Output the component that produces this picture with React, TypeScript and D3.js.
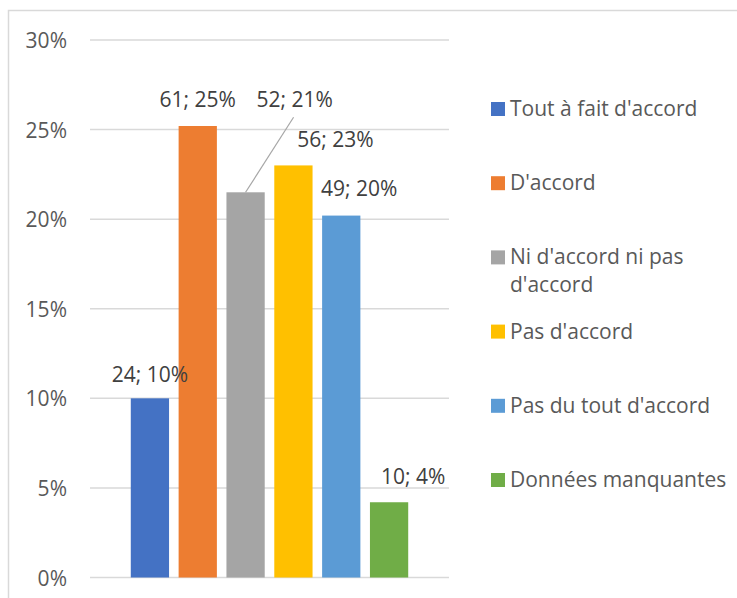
import React from "react";
import * as d3 from "d3";

const seriesNames = [
  "Tout à fait d'accord",
  "D'accord",
  "Ni d'accord ni pas d'accord",
  "Pas d'accord",
  "Pas du tout d'accord",
  "Données manquantes",
];
const counts = [24, 61, 52, 56, 49, 10];
const percents = [10.0, 25.2, 21.5, 23.0, 20.2, 4.2];
const percentLabels = ["10%", "25%", "21%", "23%", "20%", "4%"];
const colors = ["#4472C4", "#ED7D31", "#A5A5A5", "#FFC000", "#5B9BD5", "#70AD47"];
const yTicks = [0, 5, 10, 15, 20, 25, 30];
const legendLines = [
  ["Tout à fait d'accord"],
  ["D'accord"],
  ["Ni d'accord ni pas", "d'accord"],
  ["Pas d'accord"],
  ["Pas du tout d'accord"],
  ["Données manquantes"],
];
// manual label placement offsets (dx from bar centre, dy from bar top to baseline)
const labelDx = [0, 0, 49, 42, 18, 24];
const labelDy = [-16, -19, -85, -18, -20, -18];

const W = 737;
const H = 598;
const FONT = "'Open Sans', 'Liberation Sans', sans-serif";
const FS = 21;

export default function App() {
  const y = d3.scaleLinear().domain([0, 30]).range([577.5, 40]);
  const x = d3
    .scaleBand<string>()
    .domain(seriesNames)
    .range([126, 413])
    .paddingInner(0.2)
    .paddingOuter(0.1);
  const gridX0 = 90;
  const gridX1 = 449;

  return (
    <svg
      width={W}
      height={H}
      style={{ position: "absolute", left: 0, top: 0, background: "#fff" }}
      fontFamily={FONT}
    >
      <rect x={0} y={0} width={W} height={H} fill="#fff" />
      <path d={`M8.5,${H + 2}V10.5H${W + 2}`} fill="none" stroke="#d9d9d9" strokeWidth={1.5} />
      {yTicks.map((t) => (
        <g key={t}>
          <line x1={gridX0} x2={gridX1} y1={y(t)} y2={y(t)} stroke="#d9d9d9" strokeWidth={1.5} />
          <text x={67} y={y(t) + 8} textAnchor="end" fontSize={FS} fill="#595959">
            {t}%
          </text>
        </g>
      ))}
      {seriesNames.map((s, i) => {
        const bx = x(s)!;
        const top = y(percents[i]);
        return (
          <rect key={s} x={bx} y={top} width={x.bandwidth()} height={y(0) - top} fill={colors[i]} />
        );
      })}
      {seriesNames.map((s, i) => {
        const cx = x(s)! + x.bandwidth() / 2;
        const top = y(percents[i]);
        const lx = cx + labelDx[i];
        const ly = top + labelDy[i];
        return (
          <g key={"l" + s}>
            {i === 2 && (
              <line x1={lx - 1} y1={ly + 10} x2={cx} y2={top} stroke="#a6a6a6" strokeWidth={1.2} />
            )}
            <text x={lx} y={ly} textAnchor="middle" fontSize={FS} fill="#404040">
              {counts[i]}; {percentLabels[i]}
            </text>
          </g>
        );
      })}
      {legendLines.map((lines, i) => {
        const base = 116 + i * 74.2;
        return (
          <g key={"lg" + i}>
            <rect x={491} y={base - 14} width={14} height={14} fill={colors[i]} />
            {lines.map((ln, j) => (
              <text key={j} x={510} y={base + j * 28} fontSize={FS} fill="#595959">
                {ln}
              </text>
            ))}
          </g>
        );
      })}
    </svg>
  );
}
